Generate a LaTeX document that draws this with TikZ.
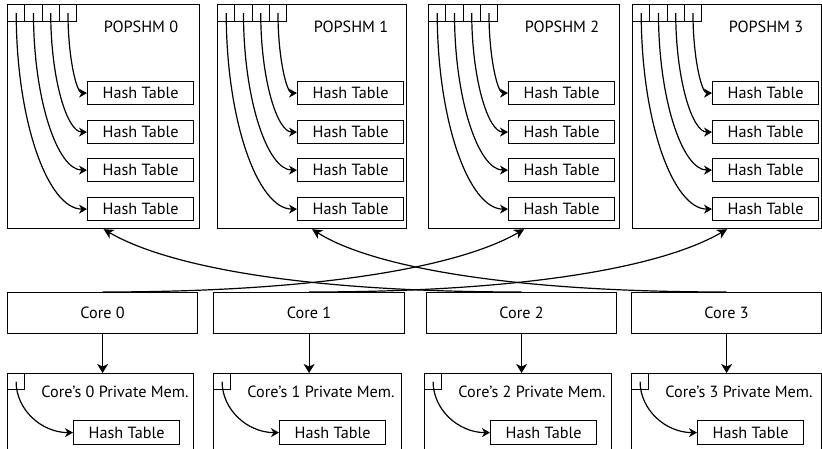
\documentclass[tikz,border=0pt]{standalone}
\usepackage{fontspec}
\setmainfont{PT Sans}
\usetikzlibrary{arrows.meta,calc}

\begin{document}
\begin{tikzpicture}[x=1pt,y=-1pt,line width=1.2pt,
  box/.style={draw, inner sep=0pt, anchor=north west},
  txt/.style={font=\fontsize{16.2}{19}\selectfont, inner sep=0pt},
  smalltip/.style={-{Stealth[length=8pt,width=9pt,inset=2.5pt]}},
  bigtip/.style={-{Stealth[length=10pt,width=10pt,inset=3pt]}},
  downtip/.style={-{Stealth[length=9pt,width=11pt,inset=2.5pt]}}]
\useasboundingbox (0,0) rectangle (822,449);

% shared memory segments, each with four slots pointing at four hash tables
\foreach \i/\L/\W in {0/7/192, 1/217/189, 2/428/191, 3/632/189} {
  \node[box, minimum width=\W pt, minimum height=224pt] (p\i) at (\L,4) {};
  \node[txt] (p\i-t) at ({\L+134},27) {POPSHM \i};
  \foreach \k/\T in {0/81, 1/120, 2/158, 3/197} {
    \node[box, minimum width=17.25pt, minimum height=17pt] (p\i-c\k) at ({\L+17.25*\k},4) {};
    \node[box, txt, minimum width=106pt, minimum height=23pt] (p\i-h\k) at ({\L+80},\T) {Hash Table};
  }
  \foreach \k in {0,...,3} {
    \pgfmathtruncatemacro\j{3-\k}
    \draw[smalltip] (p\i-c\j.center)
      .. controls ($(p\i-c\j.center)!0.552!(p\i-c\j.center |- p\i-h\k.west)$)
      and ($(p\i-h\k.west)!0.552!(p\i-c\j.center |- p\i-h\k.west)$)
      .. (p\i-h\k.west);
  }
}

% cores and their private memories
\foreach \i/\L/\W/\P/\M in {0/7/190/7/186, 1/213/191/213/188, 2/426/190/424/187, 3/631/190/631/190} {
  \node[box, txt, minimum width=\W pt, minimum height=41pt] (c\i) at (\L,292) {Core \i};
  \node[box, minimum width=\M pt, minimum height=78pt] (m\i) at (\P,373) {};
  \node[txt] (m\i-t) at ({\P+108},392) {Core’s \i{} Private Mem.};
  \node[box, minimum width=17pt, minimum height=16pt] (m\i-c) at (\P,373) {};
  \node[box, txt, minimum width=106pt, minimum height=24pt] (m\i-h) at ({\P+66},420) {Hash Table};
  \draw[downtip] (c\i.south) -- (c\i.south |- m\i.north);
  \draw[smalltip] (m\i-c.center)
    .. controls ($(m\i-c.center)!0.552!(m\i-c.center |- m\i-h.west)$)
    and ($(m\i-h.west)!0.552!(m\i-c.center |- m\i-h.west)$)
    .. (m\i-h.west);
}

% each core reaches a remote shared segment
\draw[bigtip] (c2.north) .. controls +(-230,0) and +(60,35) .. (p0.south);
\draw[bigtip] (c3.north) .. controls +(-230,0) and +(55,35) .. (p1.south);
\draw[bigtip] (c0.north) .. controls +(230,0) and +(-60,35) .. (p2.south);
\draw[bigtip] (c1.north) .. controls +(230,0) and +(-60,35) .. (p3.south);
\end{tikzpicture}
\end{document}
